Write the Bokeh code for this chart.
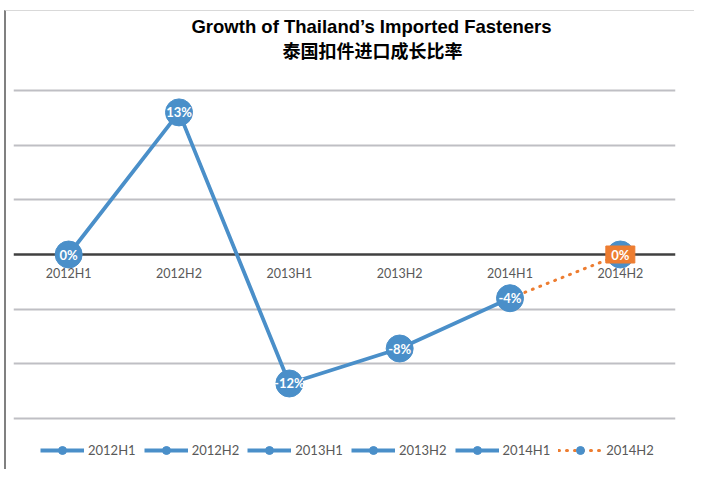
from bokeh.plotting import figure
from bokeh.models import Range1d, FixedTicker, Grid, Span, Label, Legend, LegendItem, ColumnDataSource
from bokeh.core.properties import value
from bokeh.embed import file_html
from bokeh.resources import INLINE

categories = ["2012H1", "2012H2", "2013H1", "2013H2", "2014H1", "2014H2"]
growth = [0.0, 13.0, -11.8, -8.6, -4.0, 0.0]
point_labels = ["0%", "13%", "-12%", "-8%", "-4%", "0%"]
grid_ticks = [-15, -10, -5, 5, 10, 15]
title_en = "Growth of Thailand\u2019s Imported Fasteners"
title_zh = "泰国扣件进口成长比率"

BLUE = "#4a8fc9"
ORANGE = "#ed7d31"
GREY_TXT = "#595959"

idx = list(range(len(categories)))

p = figure(width=690, height=459, output_backend="svg", toolbar_location=None,
           x_axis_type=None, y_axis_type=None,
           x_range=Range1d(-0.5, 5.5), y_range=Range1d(-19.76, 22.23),
           min_border_left=7, min_border_right=21, min_border_top=0, min_border_bottom=0)
p.outline_line_color = None
p.background_fill_color = "white"
p.border_fill_color = "white"
p.styles = {"margin-left": "4px", "margin-top": "10px",
            "border-left": "2px solid #808080", "border-top": "1px solid #d9d9d9"}

grid = Grid(dimension=1, ticker=FixedTicker(ticks=grid_ticks),
            grid_line_color="#bfbfc4", grid_line_width=2)
p.add_layout(grid)
zero = Span(location=0, dimension="width", line_color="#404040", line_width=2.5, level="underlay")
p.add_layout(zero)

# category labels sitting under the zero line
p.text(idx, [0] * len(idx), text=categories, text_color=GREY_TXT, text_font=value("Lato"),
       text_font_size="12.5px", text_align="center", text_baseline="top", y_offset=11)

p.line(idx[:5], growth[:5], line_color=BLUE, line_width=3.8)
p.line(idx[4:], growth[4:], line_color=ORANGE, line_width=3, line_dash="1 7", line_cap="round")
p.scatter(idx, growth, size=27, color=BLUE)
p.rect(x=idx[-1:], y=growth[-1:], width=29, height=17, width_units="screen",
       height_units="screen", color=ORANGE)
p.text(idx, growth, text=point_labels, text_color="white", text_font=value("Lato"),
       text_font_style="bold", text_font_size="13px", text_align="center",
       text_baseline="middle")

# legend-only renderers: one point placed far outside the visible range
items = []
for i, c in enumerate(categories):
    src = ColumnDataSource(data=dict(x=[-50], y=[-500]))
    if i < len(categories) - 1:
        lr = p.line('x', 'y', source=src, line_color=BLUE, line_width=3.8)
    else:
        lr = p.line('x', 'y', source=src, line_color=ORANGE, line_width=3,
                    line_dash="1 7", line_cap="round")
    sr = p.scatter('x', 'y', source=src, size=8, color=BLUE)
    items.append(LegendItem(label=c, renderers=[lr, sr]))

legend = Legend(items=items, orientation="horizontal", location=(27, 10),
                glyph_width=44, glyph_height=20, label_standoff=4, spacing=8,
                padding=0, margin=0, border_line_color=None, background_fill_alpha=0,
                label_text_font="Lato", label_text_font_size="13px",
                label_text_color=GREY_TXT)
p.add_layout(legend)

p.add_layout(Label(x=358, y=444, x_units="screen", y_units="screen", text=title_en,
                   text_align="center", text_baseline="middle", text_font="Liberation Sans",
                   text_font_style="bold", text_font_size="18.5px", text_color="black"))
p.add_layout(Label(x=359, y=421, x_units="screen", y_units="screen", text=title_zh,
                   text_align="center", text_baseline="middle", text_font="Noto Sans CJK SC",
                   text_font_style="bold", text_font_size="18px", text_color="black"))

open("out.html", "w").write(file_html(p, INLINE))
